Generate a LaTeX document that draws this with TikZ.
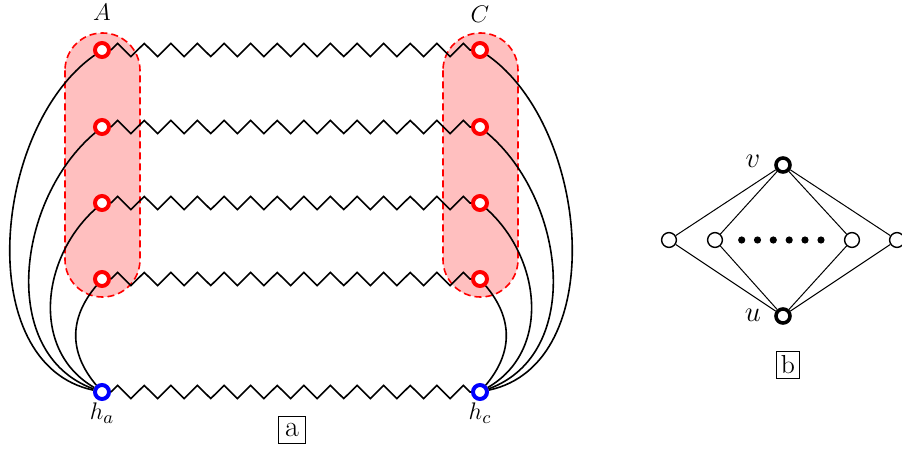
\documentclass[tikz,border=0pt]{standalone}
\usetikzlibrary{decorations.pathmorphing}
\begin{document}
\begin{tikzpicture}[x=0.5pt,y=0.5pt,
  rnode/.style={circle,draw=red,fill=white,line width=2pt,minimum size=7pt,inner sep=0pt},
  bnode/.style={circle,draw=blue,fill=white,line width=2pt,minimum size=7pt,inner sep=0pt},
  gnode/.style={circle,draw=black,fill=white,line width=0.7pt,minimum size=7.4pt,inner sep=0pt},
  gbig/.style={circle,draw=black,fill=white,line width=1.8pt,minimum size=7pt,inner sep=0pt},
  gdot/.style={circle,fill=black,minimum size=3.6pt,inner sep=0pt},
  zz/.style={thick,decorate,decoration={zigzag,segment length=13.3pt,amplitude=3.3pt}},
  curve/.style={thick},
  gedge/.style={line width=0.5pt},
  group/.style={draw=red,fill=red!25,line width=0.8pt,dash pattern=on 3.5pt off 2pt,rounded corners=18.7pt},
  lbl/.style={font=\fontsize{12.5}{15}\selectfont},
  glbl/.style={font=\fontsize{14}{17}\selectfont},
]
\useasboundingbox (0,0) rectangle (902,-450);
% groups
\draw[group] (65,-33) rectangle (140,-297);
\draw[group] (443,-33) rectangle (518,-297);
% nodes
\node[rnode] (a1) at (102,-50) {};
\node[rnode] (a2) at (102,-127) {};
\node[rnode] (a3) at (102,-203) {};
\node[rnode] (a4) at (102,-279) {};
\node[rnode] (c1) at (480,-50) {};
\node[rnode] (c2) at (480,-127) {};
\node[rnode] (c3) at (480,-203) {};
\node[rnode] (c4) at (480,-279) {};
\node[bnode] (ha) at (102,-392) {};
\node[bnode] (hc) at (480,-392) {};
% labels
\node[lbl] (la) at (102,-12) {$A$};
\node[lbl] (lc) at (480,-14) {$C$};
\node[lbl] (lha) at (102,-413) {$h_a$};
\node[lbl] (lhc) at (480,-413) {$h_c$};
\node[draw,line width=0.5pt,inner sep=3.5pt,font=\fontsize{15}{18}\selectfont] (boxa) at (292,-430) {a};
% zigzags
\draw[zz] (a1) -- (c1);
\draw[zz] (a2) -- (c2);
\draw[zz] (a3) -- (c3);
\draw[zz] (a4) -- (c4);
\draw[zz] (ha) -- (hc);
% curves left
\draw[curve] (a1) to[out=215,in=168,looseness=0.95] (ha);
\draw[curve] (a2) to[out=220,in=160,looseness=1.02] (ha);
\draw[curve] (a3) to[out=222,in=150,looseness=1.05] (ha);
\draw[curve] (a4) to[out=230,in=130,looseness=1.1] (ha);
% curves right
\draw[curve] (c1) to[out=-35,in=12,looseness=0.95] (hc);
\draw[curve] (c2) to[out=-40,in=20,looseness=1.02] (hc);
\draw[curve] (c3) to[out=-42,in=30,looseness=1.05] (hc);
\draw[curve] (c4) to[out=-50,in=50,looseness=1.1] (hc);
% graph b
\node[gbig] (v) at (783,-165) {};
\node[gbig] (u) at (783,-316) {};
\node[gnode] (s1) at (669,-240) {};
\node[gnode] (s2) at (715,-240) {};
\node[gnode] (s3) at (852,-240) {};
\node[gnode] (s4) at (897,-240) {};
\foreach \i/\x in {1/741.7,2/757.5,3/773.3,4/789.2,5/805,6/821}{
  \node[gdot] (d\i) at (\x,-240) {};
}
\foreach \s in {s1,s2,s3,s4}{
  \draw[gedge] (v) -- (\s);
  \draw[gedge] (u) -- (\s);
}
\node[glbl] (lv) at (753,-161) {$v$};
\node[glbl] (lu) at (753,-315) {$u$};
\node[draw,line width=0.5pt,inner sep=2.4pt,font=\fontsize{13}{15}\selectfont] (boxb) at (788,-365) {b};
\end{tikzpicture}
\end{document}
